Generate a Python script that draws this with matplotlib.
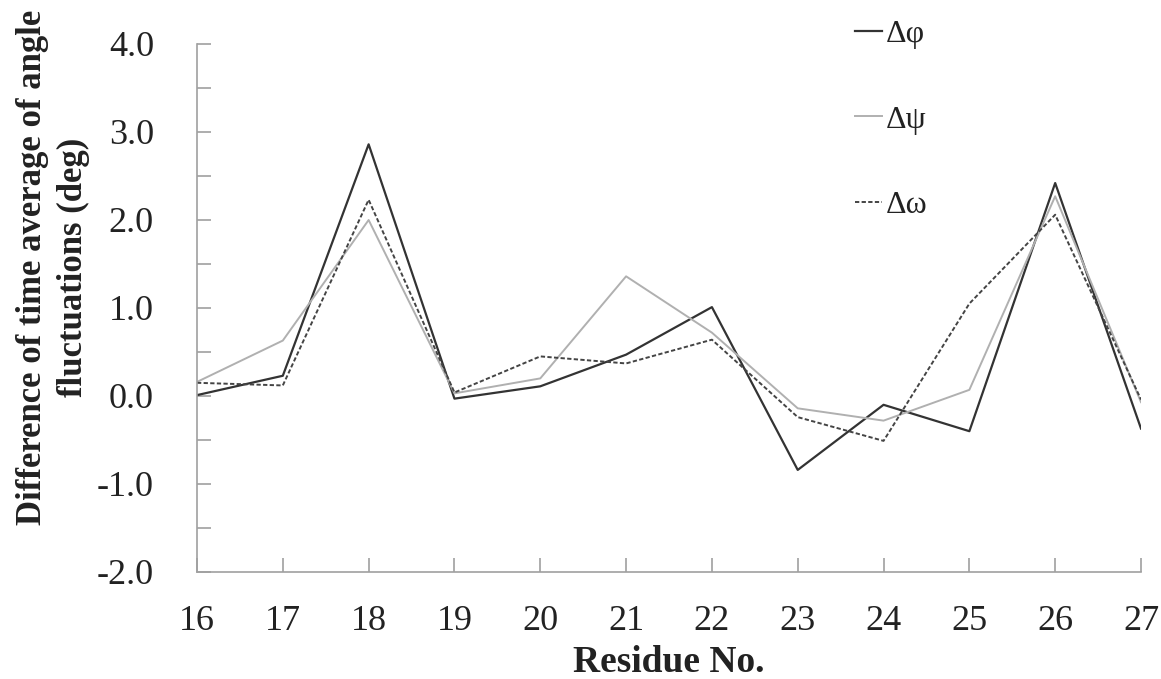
import matplotlib
matplotlib.use("Agg")
import matplotlib.pyplot as plt
from matplotlib.ticker import MultipleLocator

residues = [16, 17, 18, 19, 20, 21, 22, 23, 24, 25, 26, 27]
d_phi = [0.01, 0.23, 2.86, -0.03, 0.11, 0.47, 1.01, -0.84, -0.10, -0.40, 2.42, -0.37]
d_psi = [0.16, 0.63, 2.00, 0.03, 0.20, 1.36, 0.72, -0.14, -0.28, 0.07, 2.27, -0.07]
d_omega = [0.15, 0.12, 2.23, 0.04, 0.45, 0.37, 0.64, -0.24, -0.51, 1.05, 2.06, -0.04]
y_ticks = [-2.0, -1.0, 0.0, 1.0, 2.0, 3.0, 4.0]

plt.rcParams['font.family'] = ['Liberation Serif', 'DejaVu Serif']

fig = plt.figure(figsize=(11.61, 6.79), dpi=100)
ax = fig.add_axes([197/1161, 1-572/679, (1141-197)/1161, (572-44)/679])

ax.plot(residues, d_phi, color='#333333', lw=1.6, ls='-', label='Δφ')
ax.plot(residues, d_psi, color='#b0b0b0', lw=1.4, ls='-', label='Δψ')
ax.plot(residues, d_omega, color='#444444', lw=1.4, ls=(0, (2.2, 1.2)), label='Δω')

ax.set_xlim(16, 27)
ax.set_ylim(-2.0, 4.0)
ax.set_xticks(residues)
ax.set_xticklabels([str(r) for r in residues])
ax.set_yticks(y_ticks)
ax.set_yticklabels([f"{v:.1f}" for v in y_ticks])
ax.yaxis.set_minor_locator(MultipleLocator(0.5))

for s in ['top', 'right']:
    ax.spines[s].set_visible(False)
for s in ['left', 'bottom']:
    ax.spines[s].set_color('#a0a0a0')
    ax.spines[s].set_linewidth(1.2)

ax.tick_params(axis='both', which='both', direction='in', color='#a0a0a0', width=1.2, length=10)
ax.tick_params(axis='x', labelsize=26, pad=24, colors='#222222')
ax.tick_params(axis='y', labelsize=26, pad=31, colors='#222222')
ax.tick_params(axis='both', which='both', color='#a0a0a0')

ax.set_xlabel('Residue No.', fontsize=27, fontweight='bold', color='#222222', labelpad=5)
fig.text(53/1161, 1-267/679, 'Difference of time average of angle\nfluctuations (deg)',
         rotation=90, ha='center', va='center', multialignment='center',
         fontsize=25, fontweight='bold', color='#222222', linespacing=1.3)

leg = ax.legend(loc='upper left', bbox_to_anchor=(855/1161, 1-20/679), bbox_transform=fig.transFigure,
                frameon=False, fontsize=23, handlelength=0.85, handletextpad=0.1,
                labelspacing=1.75, borderaxespad=0.0, borderpad=0.0)
for t in leg.get_texts():
    t.set_color('#222222')

fig.savefig('out.png', dpi=100, facecolor='white')
